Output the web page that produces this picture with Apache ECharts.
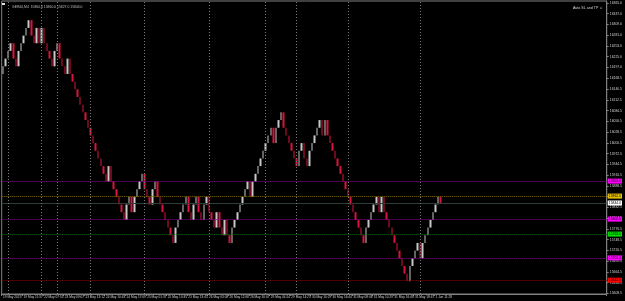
<!DOCTYPE html>
<html>
<head>
<meta charset="utf-8">
<title>GER40 M4 renko</title>
<script src="https://cdn.jsdelivr.net/npm/echarts@6/dist/echarts.min.js"></script>
<style>
  html, body { margin: 0; padding: 0; background: #000; }
  #chart { width: 625px; height: 301px; }
</style>
</head>
<body>
<div id="chart"></div>
<script>
// renko bricks, open of each brick = close of the one before
const firstOpen = 16180
const closes = [
  16200, 16220, 16240, 16260, 16220, 16200, 16240, 16260, 16280, 16300, 16320, 16280, 16260, 16300, 16260, 16300,
  16260, 16240, 16220, 16200, 16240, 16260, 16220, 16200, 16180, 16220, 16180, 16160, 16140, 16120, 16100, 16080,
  16060, 16040, 16020, 16000, 15980, 15960, 15940,
  15920, 15900, 15940, 15900, 15880, 15860, 15840, 15820, 15800,
  15840, 15860, 15820, 15860, 15880, 15900, 15920,
  15880, 15860, 15840, 15880, 15900,
  15860, 15840, 15820, 15800, 15780, 15760, 15740,
  15780, 15800, 15820, 15840, 15860,
  15820, 15800, 15840, 15860, 15820, 15800, 15840, 15860,
  15820, 15800, 15780, 15820, 15780, 15760, 15800, 15760, 15740,
  15780, 15800, 15820, 15840, 15860, 15880, 15900, 15860, 15900, 15920, 15940, 15960, 15980, 16000, 16020, 16040,
  16000, 16040, 16060, 16080,
  16040, 16020, 16000, 15980, 15960, 15940,
  15980, 16000, 15960, 15940, 15980, 16000, 16020, 16040, 16060, 16020, 16060, 16020, 16000, 15980, 15960, 15940,
  15920, 15900, 15880, 15860, 15840, 15820, 15800, 15780, 15760, 15740,
  15780, 15800, 15820, 15840, 15860,
  15820, 15860, 15820, 15800, 15780, 15760, 15740, 15720, 15700, 15680, 15660, 15640,
  15680, 15700, 15720, 15740, 15700, 15740, 15760, 15780, 15800, 15820, 15840, 15860,
  15844
]

const timeLabels = [
  '19 May 2023', '19 May 11:37', '22 May 07:55', '23 May 09:07', '23 May 13:12', '24 May 10:43',
  '24 May 17:09', '25 May 01:37', '25 May 10:35', '25 May 13:45', '26 May 03:08', '26 May 12:08',
  '26 May 16:07', '29 May 04:24', '29 May 14:23', '30 May 10:29', '30 May 16:44', '31 May 08:08',
  '31 May 10:29', '31 May 16:48', '31 May 18:47', '1 Jun 11:28'
]
const labelEvery = 8
const slotCount = 235
const daySeparators = [2, 15, 21, 34, 55, 80, 102, 114, 134, 162]

const priceTicks = [
  16365.0, 16337.0, 16309.0, 16281.0, 16253.0, 16225.0, 16197.0, 16168.5, 16140.5, 16112.5,
  16084.5, 16056.5, 16028.5, 16000.5, 15972.5, 15944.5, 15916.5, 15888.5, 15860.5, 15832.5,
  15804.5, 15776.5, 15748.5, 15720.5, 15692.5, 15664.5, 15636.5, 15608.5
]

// Auto SL and TP levels + current bid
const levelPrices = [15901, 15862, 15844, 15802, 15763, 15701, 15643]
const levelColors = ['#ff00ff', '#e6c000', '#ffffff', '#ff00ff', '#00e000', '#ff00ff', '#ff0000']
const levelLineColors = ['#7a0a7a', '#8a6d00', '#2e3c3c', '#7a0a7a', '#0b6b0b', '#7a0a7a', '#7a0a0a']

const symbolTitle = 'GER40,M4  15860.0 15860.0 15827.0 15844.0'
const indicatorTitle = 'Auto SL and TP \u263A'

const tinyFont = 'Liberation Sans'

function buildBricks() {
  return closes.map((c, i) => {
    const o = i === 0 ? firstOpen : closes[i - 1]
    return [o, c, Math.min(o, c), Math.max(o, c)]
  })
}

function getOption() {
  const cats = []
  for (let i = 0; i < slotCount; i++) cats.push(String(i))

  const showAt = (index) => index % labelEvery === 0 && index / labelEvery < timeLabels.length

  const levelLines = levelPrices.map((p, i) => ({
    yAxis: p,
    lineStyle: { color: levelLineColors[i], type: i === 2 ? 'solid' : 'dotted', width: 1 },
    label: {
      show: true,
      position: 'end',
      distance: 1,
      formatter: () => p.toFixed(1),
      color: '#000',
      backgroundColor: levelColors[i],
      fontSize: 3.4,
      fontFamily: tinyFont,
      padding: [1, 1, 1, 1]
    }
  }))

  const sepLines = daySeparators.map(i => ({
    xAxis: String(i),
    lineStyle: { color: '#7a7a7a', type: [1, 2], width: 1 },
    label: { show: false }
  }))

  return {
    backgroundColor: '#000',
    animation: false,
    title: [
      {
        text: symbolTitle,
        left: 7,
        top: 1,
        textStyle: { color: '#bfbfbf', fontSize: 3.4, fontWeight: 'normal', fontFamily: tinyFont }
      },
      {
        text: indicatorTitle,
        right: 17,
        top: 1,
        textStyle: { color: '#d8d8d8', fontSize: 3.6, fontWeight: 'normal', fontFamily: tinyFont }
      }
    ],
    graphic: [
      { type: 'rect', left: 2, top: 3, shape: { width: 3, height: 2 }, style: { fill: '#e0e0e0' } }
    ],
    grid: {
      left: 0,
      right: 14,
      top: 1,
      bottom: 7,
      show: true,
      borderColor: '#808080',
      borderWidth: 1,
      backgroundColor: '#000'
    },
    xAxis: {
      type: 'category',
      data: cats,
      boundaryGap: true,
      axisLine: { lineStyle: { color: '#808080' } },
      axisTick: { show: true, interval: showAt, length: 2, lineStyle: { color: '#808080' } },
      axisLabel: {
        interval: showAt,
        formatter: (v) => timeLabels[Number(v) / labelEvery] || '',
        align: 'left',
        margin: 2,
        color: '#d0d0d0',
        fontSize: 3.2,
        fontFamily: tinyFont,
        hideOverlap: false
      },
      splitLine: { show: false }
    },
    yAxis: {
      type: 'value',
      position: 'right',
      min: 15607,
      max: 16370,
      scale: true,
      axisLine: { show: true, lineStyle: { color: '#808080' } },
      axisTick: { show: true, customValues: priceTicks, length: 2, lineStyle: { color: '#808080' } },
      axisLabel: {
        customValues: priceTicks,
        formatter: (v) => v.toFixed(1),
        margin: 3,
        color: '#d0d0d0',
        fontSize: 3.4,
        fontFamily: tinyFont
      },
      splitLine: { show: false }
    },
    series: [{
      type: 'candlestick',
      data: buildBricks(),
      barWidth: 2,
      itemStyle: {
        color: '#c8c8c8',
        color0: '#dc143c',
        borderColor: '#c8c8c8',
        borderColor0: '#dc143c',
        borderWidth: 0
      },
      markLine: {
        silent: true,
        symbol: 'none',
        animation: false,
        data: levelLines.concat(sepLines)
      }
    }]
  }
}

const chart = echarts.init(document.getElementById('chart'))
chart.setOption(getOption())
window.addEventListener('resize', () => chart.resize())
</script>
</body>
</html>
